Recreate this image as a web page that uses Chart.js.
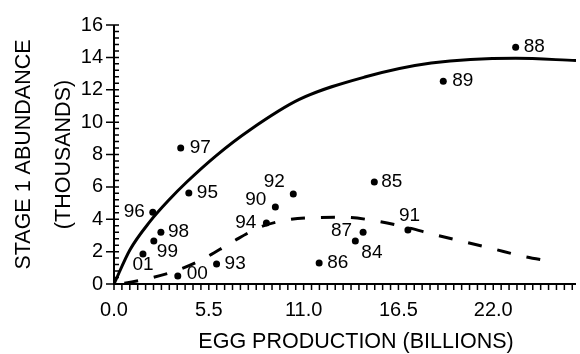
<!DOCTYPE html>
<html>
<head>
<meta charset="utf-8">
<script src="https://cdn.jsdelivr.net/npm/chart.js@4.4.0/dist/chart.umd.min.js"></script>
<style>
    html, body { margin: 0; padding: 0; background: #fff; }
    #wrap { width: 580px; height: 354px; }
</style>
</head>
<body>
<div id="wrap"><canvas id="chart"></canvas></div>
<script>
// ========== DATA ==========
// observed years: egg production (billions) vs stage 1 abundance (thousands)
const years  = ['84', '85', '86', '87', '88', '89', '90', '91', '92', '93', '94', '95', '96', '97', '98', '99', '00', '01'];
const eggs   = [14.0, 15.1, 11.9, 14.45, 23.3, 19.1, 9.36, 17.05, 10.4, 5.95, 8.84, 4.34, 2.25, 3.87, 2.72, 2.31, 3.7, 1.68];
const stage1 = [2.65, 6.3, 1.3, 3.2, 14.63, 12.53, 4.75, 3.33, 5.56, 1.23, 3.77, 5.62, 4.44, 8.4, 3.2, 2.65, 0.5, 1.85];

// fitted curves
const solidX = [0, 0.92, 2.08, 3.24, 4.22, 5.95, 7.86, 10.75, 14.6, 18.4, 23.3, 26.8];
const solidY = [0, 2.1, 3.85, 5.25, 6.3, 7.95, 9.5, 11.4, 12.8, 13.65, 13.95, 13.8];
const dashX  = [0.6, 1.9, 3.7, 5.26, 6.76, 8.44, 10.0, 11.73, 13.47, 15.2, 16.9, 18.6, 20.35, 22.0, 23.7, 25.4];
const dashY  = [0.05, 0.31, 0.86, 1.6, 2.53, 3.5, 3.95, 4.1, 4.12, 3.89, 3.52, 3.05, 2.6, 2.17, 1.72, 1.39];

// tick labels
const xTicks = [0, 5.5, 11, 16.5, 22];
const yTicks = [0, 2, 4, 6, 8, 10, 12, 14, 16];

const xTitle = 'EGG PRODUCTION (BILLIONS)';
const yTitle = ['STAGE 1 ABUNDANCE', '(THOUSANDS)'];

const FONT = 'Arial, "Liberation Sans", sans-serif';

// where each year label sits next to its dot: [dx, dy, align]
const labelPlace = {
    '88': [8, 0, 'left'],   '89': [9, 0, 'left'],   '97': [9, 0, 'left'],
    '95': [8, 0, 'left'],   '96': [-8, 0, 'right'], '98': [7, 0, 'left'],
    '99': [3, 11, 'left'],  '01': [0, 11, 'center'], '00': [9, -2, 'left'],
    '93': [8, 0, 'left'],   '94': [-10, 0, 'right'], '90': [-9, -7, 'right'],
    '92': [-19, -12, 'center'], '85': [7, 0, 'left'], '86': [8, 0, 'left'],
    '87': [-11, -1, 'right'], '84': [6, 12, 'left'], '91': [-9, -14, 'left']
};

// ========== PLUGINS ==========
const axisFrame = {
    id: 'axisFrame',
    afterDraw(chart) {
        const { ctx, chartArea: a, scales: { x, y } } = chart;
        ctx.save();
        ctx.strokeStyle = '#000';
        ctx.lineWidth = 2;
        ctx.beginPath();
        ctx.moveTo(a.left, a.top);
        ctx.lineTo(a.left, a.bottom);
        ctx.lineTo(a.right, a.bottom);
        ctx.stroke();

        ctx.lineWidth = 1.5;
        ctx.beginPath();
        // y minor ticks inside, major ticks outside
        for (let i = 0; i <= 40; i++) {
            const py = y.getPixelForValue(i * 0.4);
            ctx.moveTo(a.left, py);
            ctx.lineTo(a.left + 5, py);
        }
        yTicks.forEach(v => {
            const py = y.getPixelForValue(v);
            ctx.moveTo(a.left - 8, py);
            ctx.lineTo(a.left, py);
        });
        // x ticks downward
        for (let i = 0; ; i++) {
            const v = i * 5.5 / 12;
            if (v > x.max) break;
            const px = x.getPixelForValue(v);
            ctx.moveTo(px, a.bottom);
            ctx.lineTo(px, a.bottom + 6);
        }
        ctx.stroke();

        // x axis title, sits a little right of the plot centre in the original
        ctx.fillStyle = '#000';
        ctx.font = '21.5px ' + FONT;
        ctx.textAlign = 'center';
        ctx.textBaseline = 'middle';
        ctx.fillText(xTitle, (a.left + a.right) / 2 + 11, 342);
        ctx.restore();
    }
};

const yearLabels = {
    id: 'yearLabels',
    afterDatasetsDraw(chart) {
        const { ctx } = chart;
        const meta = chart.getDatasetMeta(2);
        ctx.save();
        ctx.fillStyle = '#000';
        ctx.font = '19px ' + FONT;
        ctx.textBaseline = 'middle';
        meta.data.forEach((pt, i) => {
            const p = labelPlace[years[i]] || [8, 0, 'left'];
            ctx.textAlign = p[2];
            ctx.fillText(years[i], pt.x + p[0], pt.y + p[1]);
        });
        ctx.restore();
    }
};

// ========== CHART ==========
new Chart(document.getElementById('chart'), {
    type: 'scatter',
    data: {
        datasets: [
            {
                data: solidX.map((v, i) => ({ x: v, y: solidY[i] })),
                showLine: true,
                borderColor: '#000',
                borderWidth: 3,
                pointRadius: 0,
                cubicInterpolationMode: 'monotone'
            },
            {
                data: dashX.map((v, i) => ({ x: v, y: dashY[i] })),
                showLine: true,
                borderColor: '#000',
                borderWidth: 3,
                borderDash: [14, 16],
                pointRadius: 0,
                cubicInterpolationMode: 'monotone'
            },
            {
                data: eggs.map((v, i) => ({ x: v, y: stage1[i] })),
                backgroundColor: '#000',
                borderColor: '#000',
                pointRadius: 3.5,
                borderWidth: 0
            }
        ]
    },
    options: {
        responsive: true,
        maintainAspectRatio: false,
        animation: false,
        events: [],
        layout: { padding: { top: 25, right: 2, bottom: 0, left: 0 } },
        plugins: {
            legend: { display: false },
            tooltip: { enabled: false }
        },
        scales: {
            x: {
                type: 'linear',
                min: 0,
                max: 26.8,
                afterBuildTicks: s => { s.ticks = xTicks.map(v => ({ value: v })); },
                afterFit: s => { s.height = 70; },
                grid: { display: false, drawTicks: false },
                border: { display: false },
                ticks: {
                    color: '#000',
                    font: { family: FONT, size: 20 },
                    padding: 14,
                    maxRotation: 0,
                    callback: v => v.toFixed(1)
                }
            },
            y: {
                type: 'linear',
                min: 0,
                max: 16,
                afterBuildTicks: s => { s.ticks = yTicks.map(v => ({ value: v })); },
                afterFit: s => { s.width = 114; },
                grid: { display: false, drawTicks: false },
                border: { display: false },
                ticks: {
                    color: '#000',
                    font: { family: FONT, size: 20 },
                    padding: 11
                },
                title: {
                    display: true,
                    text: yTitle,
                    color: '#000',
                    font: { family: FONT, size: 21.5, lineHeight: 1.82 },
                    padding: { top: 5, bottom: 0 }
                }
            }
        }
    },
    plugins: [axisFrame, yearLabels]
});
</script>
</body>
</html>
